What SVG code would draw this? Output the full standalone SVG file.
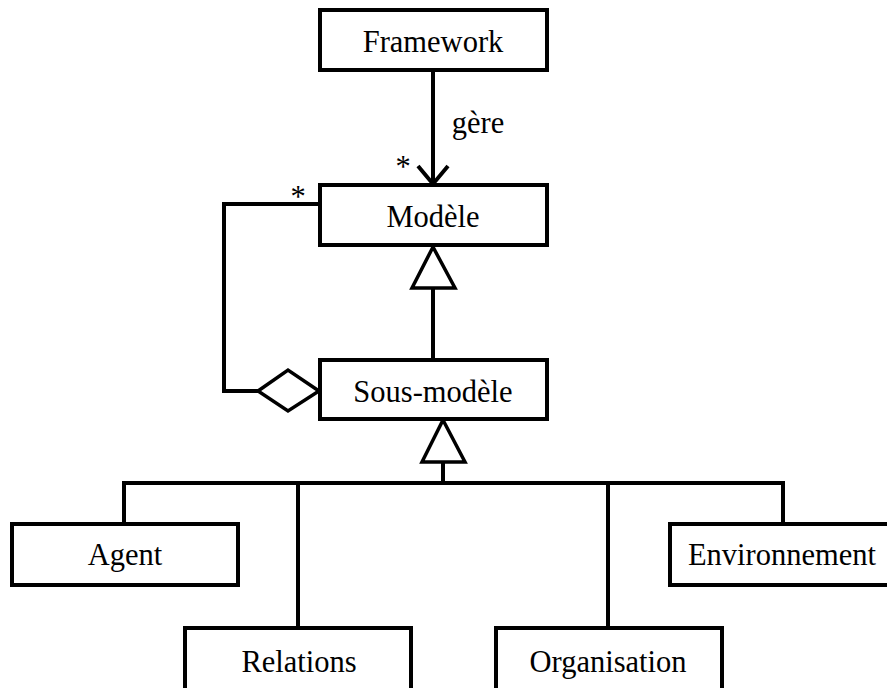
<svg xmlns="http://www.w3.org/2000/svg" width="887" height="688" viewBox="0 0 887 688">
<style>
.box{fill:#fff;stroke:#000;stroke-width:4}
.lbl{font-size:30.5px;fill:#000;text-anchor:middle}
.ln{fill:none;stroke:#000;stroke-width:4}
.hd{fill:#fff;stroke:#000;stroke-width:3.5}
</style>
<rect width="887" height="688" fill="#fff"/>
<g font-family="'Liberation Serif', 'Times New Roman', Times, serif">
<g id="connectors">
<line class="ln" x1="433" y1="70" x2="433" y2="183"/>
<polyline class="ln" points="418,166 433,184 448,166"/>
<text class="lbl" x="478" y="133">gère</text>
<text class="lbl" x="403" y="177">*</text>
<text class="lbl" x="298" y="207">*</text>
<line class="ln" x1="433" y1="288" x2="433" y2="360"/>
<polygon class="hd" points="433,247 412,288 455,288"/>
<polyline class="ln" points="319,204 224,204 224,391 258,391"/>
<polygon class="hd" points="258,391 288,370 319,391 288,411"/>
<line class="ln" x1="443" y1="462" x2="443" y2="483"/>
<polygon class="hd" points="443,420 422,462 465,462"/>
<polyline class="ln" points="124,524 124,483 783,483 783,524"/>
<line class="ln" x1="298" y1="483" x2="298" y2="628"/>
<line class="ln" x1="608" y1="483" x2="608" y2="628"/>
</g>
<g id="framework"><rect class="box" x="320" y="10" width="227" height="60"/><text class="lbl" x="433" y="52">Framework</text></g>
<g id="modele"><rect class="box" x="320" y="185" width="227" height="60"/><text class="lbl" x="433" y="227">Modèle</text></g>
<g id="sous-modele"><rect class="box" x="320" y="360" width="227" height="59"/><text class="lbl" x="433" y="402">Sous-modèle</text></g>
<g id="agent"><rect class="box" x="12" y="524" width="226" height="61"/><text class="lbl" x="125" y="565">Agent</text></g>
<g id="environnement"><rect class="box" x="670" y="524" width="220" height="61"/><text class="lbl" x="782" y="565">Environnement</text></g>
<g id="relations"><rect class="box" x="185" y="628" width="226" height="70"/><text class="lbl" x="299" y="672">Relations</text></g>
<g id="organisation"><rect class="box" x="496" y="628" width="226" height="70"/><text class="lbl" x="608" y="672">Organisation</text></g>
</g>
</svg>
